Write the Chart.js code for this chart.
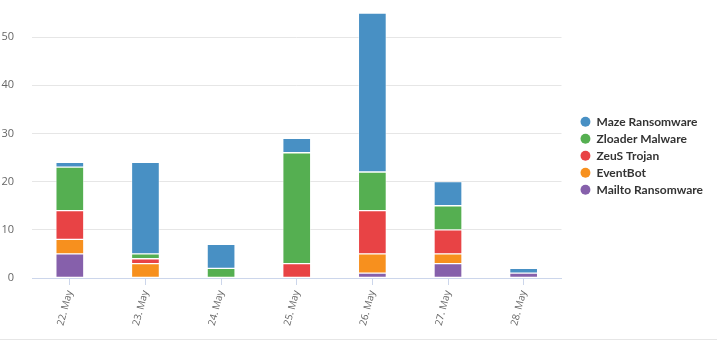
<!DOCTYPE html>
<html>
<head>
<meta charset="utf-8">
<script src="https://cdn.jsdelivr.net/npm/chart.js@4/dist/chart.umd.min.js"></script>
<style>
  html, body { margin: 0; padding: 0; background: #fff; }
  #wrap { width: 717px; height: 339px; border-bottom: 1px solid #e6e6e6; }
</style>
</head>
<body>
<div id="wrap"><canvas id="chart" width="717" height="339"></canvas></div>
<script>
// days on the x axis
const days = ['22. May', '23. May', '24. May', '25. May', '26. May', '27. May', '28. May'];

// detections per day, one array per family
const maze = [1, 19, 5, 3, 33, 5, 1];
const zloader = [9, 1, 2, 23, 8, 5, 0];
const zeus = [6, 1, 0, 3, 9, 5, 0];
const eventbot = [3, 3, 0, 0, 4, 2, 0];
const mailto = [5, 0, 0, 0, 1, 3, 1];

const yTicks = [0, 10, 20, 30, 40, 50];

function series(label, data, color) {
    return {
        label: label,
        data: data,
        backgroundColor: color,
        borderColor: 'rgba(255,255,255,0.45)',
        borderWidth: 1,
        borderSkipped: false,
        barThickness: 28
    };
}

// bottom of the stack first, legend is reversed
const datasets = [
    series('Mailto Ransomware', mailto, '#8660ab'),
    series('EventBot', eventbot, '#f7901e'),
    series('ZeuS Trojan', zeus, '#e84345'),
    series('Zloader Malware', zloader, '#55af51'),
    series('Maze Ransomware', maze, '#4890c4')
];

const axisFont = { family: "'Open Sans', sans-serif", size: 11 };
const dayFont = { family: "'Open Sans', sans-serif", size: 10 };
const legendFont = { family: "Lato, sans-serif", size: 12, weight: 'bold' };

function draw() {
    new Chart(document.getElementById('chart').getContext('2d'), {
        type: 'bar',
        data: { labels: days, datasets: datasets },
        options: {
            responsive: false,
            animation: false,
            layout: { padding: { top: 13, right: 4, left: 0, bottom: 0 } },
            plugins: {
                tooltip: { enabled: false },
                legend: {
                    position: 'right',
                    fullSize: false,
                    reverse: true,
                    maxWidth: 220,
                    title: { display: true, text: '', padding: 3, font: { size: 12 } },
                    labels: {
                        usePointStyle: true,
                        pointStyle: 'circle',
                        boxWidth: 10,
                        boxHeight: 7,
                        padding: 5,
                        color: '#333333',
                        font: legendFont,
                        generateLabels: (chart) => {
                            const items = Chart.defaults.plugins.legend.labels.generateLabels(chart);
                            items.forEach(it => { it.lineWidth = 0; it.strokeStyle = 'transparent'; });
                            return items;
                        }
                    }
                }
            },
            scales: {
                x: {
                    stacked: true,
                    offset: true,
                    grid: {
                        offset: false,
                        drawOnChartArea: false,
                        drawTicks: true,
                        tickLength: 7,
                        color: '#ccd6eb'
                    },
                    border: { display: true, color: '#ccd6eb' },
                    ticks: {
                        minRotation: 75,
                        maxRotation: 75,
                        padding: 4,
                        color: '#666666',
                        font: dayFont
                    },
                    afterFit: (scale) => { scale.height = 61; }
                },
                y: {
                    stacked: true,
                    min: 0,
                    max: 55,
                    grid: {
                        drawTicks: true,
                        tickLength: 18,
                        tickColor: 'rgba(0,0,0,0)',
                        color: (ctx) => (ctx.tick && ctx.tick.value === 0) ? 'rgba(0,0,0,0)' : '#e6e6e6'
                    },
                    border: { display: false },
                    ticks: {
                        stepSize: 10,
                        padding: 0,
                        color: '#666666',
                        font: axisFont
                    },
                    afterBuildTicks: (scale) => {
                        scale.ticks = yTicks.map(v => ({ value: v }));
                    },
                    afterFit: (scale) => { scale.width = 32; }
                },
                // spacer between the plot and the legend
                gap: {
                    type: 'linear',
                    position: 'right',
                    grid: { display: false },
                    border: { display: false },
                    ticks: { display: false },
                    afterFit: (scale) => { scale.width = 14; }
                }
            }
        }
    });
}

Promise.all([
    document.fonts.load('bold 12px Lato'),
    document.fonts.load('11px "Open Sans"')
]).then(draw, draw);
</script>
</body>
</html>
